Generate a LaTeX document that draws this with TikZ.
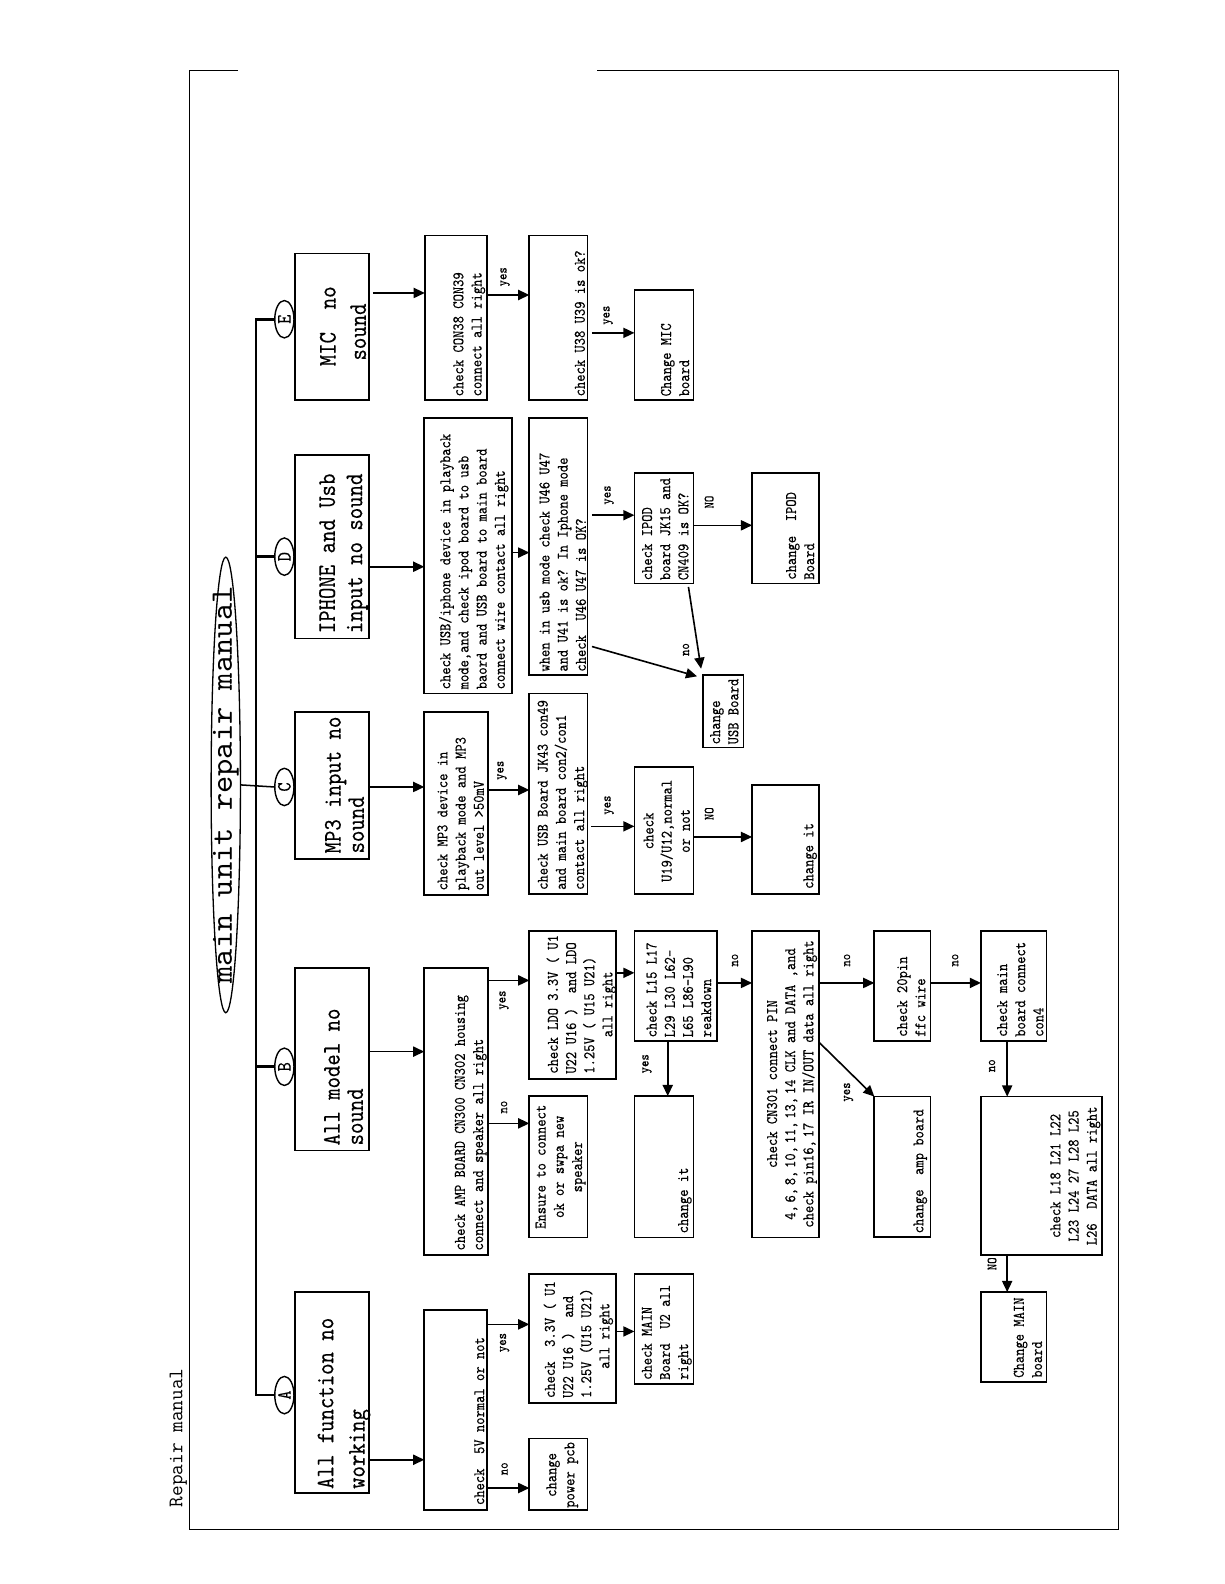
\documentclass[tikz,border=0pt]{standalone}
\usepackage{fontspec}
\usepackage{graphicx}
\usetikzlibrary{arrows.meta,shapes.geometric}
\newfontfamily\myCondFont[FakeStretch=0.86,FakeBold=0.3]{lmmono10-regular.otf}
\newfontfamily\myTitleFont[FakeStretch=1.05]{lmmono10-regular.otf}
\newcommand\mybox[5]{\node[box, minimum width={(#4)-(#2)}, minimum height={(#5)-(#3)}] (#1) at ({((#2)+(#4))/2},{((#3)+(#5))/2}) {};}
\begin{document}
\begin{tikzpicture}[x=1pt,y=-1pt,
  box/.style={draw, line width=1.7pt, inner sep=0pt, outer sep=0pt},
  txt/.style={font=\myCondFont\fontsize{16}{18}\selectfont, inner sep=0pt, rotate=90},
  bigtxt/.style={font=\myCondFont\fontsize{25}{31}\selectfont, inner sep=0pt, rotate=90},
  bigtight/.style={font=\myCondFont\fontsize{25}{23}\selectfont, inner sep=0pt, rotate=90},
  bigmid/.style={font=\myCondFont\fontsize{25}{27}\selectfont, inner sep=0pt, rotate=90},
  lbl/.style={font=\myCondFont\fontsize{14}{16}\selectfont, inner sep=0pt, rotate=90},
  arr/.style={line width=1.6pt, -{Triangle[length=11pt,width=10pt]}},
  bus/.style={line width=2.6pt},
  circ/.style={draw, ellipse, line width=1.4pt, minimum width=37pt, minimum height=19pt, inner sep=0pt, rotate=90, font=\myCondFont\fontsize{20}{20}\selectfont},
  frame/.style={line width=1.3pt}]
\useasboundingbox (0,0) rectangle (1212,1568);
\fill[white] (0,0) rectangle (1212,1568);
% frame
\draw[frame] (235.6,70) -- (187.5,70) -- (187.5,1514) -- (1107.5,1514) -- (1107.5,70) -- (591.3,70);
\node[font=\ttfamily\fontsize{20.5}{22}\selectfont, rotate=90, anchor=west, inner sep=0pt] (rm) at (176.5,1492) {Repair manual};
% title
\node[draw, ellipse, line width=1.3pt, minimum width=29pt, minimum height=451pt, inner sep=0pt] (title) at (223.5,777) {};
\node[font=\myTitleFont\fontsize{31}{31}\selectfont, rotate=90, inner sep=0pt] (titletxt) at (title.center) {main unit repair manual};
% circles
\node[circ] (cA) at (281.5,1381) {A};
\node[circ] (cB) at (281.5,1056) {B};
\node[circ] (cC) at (281.5,779) {C};
\node[circ] (cD) at (281.5,551) {D};
\node[circ] (cE) at (281.5,316) {E};
\coordinate (bt) at (253.5,316);
\coordinate (bb) at (253.5,1381);
\draw[bus] (cE.north) -- (bt) -- (bb) -- (cA.north);
\draw[bus] (cB.north) -- (bt |- cB.north);
\draw[bus] (cD.north) -- (bt |- cD.north);
\draw[line width=1.5pt] (title.east) -- (cC.north);

% ---------- A ----------
\mybox{A1}{292}{1279}{365}{1478}
\node[bigtxt, anchor=west, align=left] (tA1) at (340.5,1474) {All function no\\working};
\mybox{A2}{420}{1297}{482}{1495}
\node[txt, anchor=west] (tA2) at (474.5,1490) {check~~5V normal or not};
\mybox{A3}{524}{1424}{581.5}{1495}
\node[txt, align=center] (tA3) at (556.5,1460) {change\\power pcb};
\mybox{A4}{524}{1261}{609.5}{1389}
\node[txt, anchor=west, align=left] (tA4) at (572.5,1384) {check~~3.3V ( U1\\U22 U16 )~~and\\1.25V (U15 U21)\\\phantom{xxxx}all right};
\mybox{A5}{628}{1261}{686.5}{1370}
\node[txt, anchor=west, align=left] (tA5) at (660,1366) {check MAIN\\Board~~U2 all\\right};
\draw[arr] (A1.east |- 0,1445) -- (A2.west |- 0,1445);
\draw[arr] (A2.east |- 0,1311) -- (A4.west |- 0,1311);
\node[lbl] (yA1) at (499.5,1329) {yes};
\draw[arr] (A2.east |- 0,1473) -- (A3.west |- 0,1473);
\node[lbl] (nA1) at (499.5,1454) {no};
\draw[arr] (A4.east |- 0,1318) -- (A5.west |- 0,1318);

% ---------- B ----------
\mybox{B1}{292}{958}{365}{1139}
\node[bigtight, anchor=west, align=left] (tB1) at (340,1134) {All model no\\sound};
\mybox{B2}{420}{958}{483}{1242}
\node[txt, anchor=west, align=left] (tB2) at (466,1238) {check AMP BOARD CN300 CN302 housing\\connect and speaker all right};
\mybox{B3}{524}{921.5}{609.5}{1068}
\node[txt, anchor=west, align=left] (tB3) at (575.5,1063) {check LDO 3.3V ( U1\\U22 U16 )~~and LDO\\1.25V ( U15 U21)\\\phantom{xxxxx}all right};
\mybox{B4}{524}{1085}{581.5}{1225}
\node[txt, align=center] (tB4) at (555,1155) {Ensure to connect\\ok or swpa new\\speaker};
\mybox{B5}{628}{921.5}{709.5}{1030.5}
\node[txt, anchor=west, align=left] (tB5) at (672,1027) {check L15 L17\\L29 L30 L62\textendash\\L65 L86\textendash L90\\reakdown};
\mybox{B6}{628}{1085}{686.5}{1225}
\node[txt, anchor=west] (tB6) at (678,1221) {change it};
\mybox{B7}{744.5}{921.5}{810.5}{1225}
\node[txt, align=center] (tB7) at (784,1073) {check CN301 connect PIN\\4,\,6,\,8,\,10,\,11,\,13,\,14 CLK and DATA ,and\\check pin16,\,17 IR IN/OUT data all right};
\mybox{B8}{865.5}{921.5}{921}{1030.5}
\node[txt, anchor=west, align=left] (tB8) at (902,1026.5) {check 20pin\\ffc wire};
\mybox{B9}{971}{921.5}{1036}{1030.5}
\node[txt, anchor=west, align=left] (tB9) at (1010,1026.5) {check main\\board connect\\con4};
\mybox{B10}{865.5}{1085.5}{921}{1224.5}
\node[txt, anchor=west] (tB10) at (911,1221) {change~~amp board};
\mybox{B11}{971}{1085.5}{1091}{1242.5}
\node[txt, align=center] (tB11) at (1064.5,1164) {check L18 L21 L22\\L23 L24 27 L28 L25\\L26~~DATA all right};
\mybox{B12}{971}{1279}{1036}{1368}
\node[txt, anchor=west, align=left] (tB12) at (1017.5,1364) {Change MAIN\\board};
\draw[arr] (B1.east |- 0,1041) -- (B2.west |- 0,1041);
\draw[arr] (B2.east |- 0,970.5) -- (B3.west |- 0,970.5);
\node[lbl] (yB1) at (499,990) {yes};
\draw[arr] (B2.east |- 0,1112) -- (B4.west |- 0,1112);
\node[lbl] (nB1) at (499,1096) {no};
\draw[arr] (B3.east |- 0,963) -- (B5.west |- 0,963);
\draw[arr] (B5.south -| 661,0) -- (B6.north -| 661,0);
\node[lbl] (yB2) at (640.5,1053) {yes};
\draw[arr] (B5.east |- 0,973) -- (B7.west |- 0,973);
\node[lbl] (nB2) at (727.5,950.5) {no};
\draw[arr] (B7.east |- 0,973) -- (B8.west |- 0,973);
\node[lbl] (nB3) at (838.5,950.5) {no};
\draw[arr] (B8.east |- 0,973) -- (B9.west |- 0,973);
\node[lbl] (nB4) at (945.5,950.5) {no};
\draw[arr] (B7.east |- 0,1031.5) -- (B10.north west);
\node[lbl] (yB3) at (840,1081) {yes};
\draw[arr] (B9.south -| 997,0) -- (B11.north -| 997,0);
\node[lbl] (nB5) at (982,1055) {no};
\draw[arr] (B11.south -| 997,0) -- (B12.north -| 997,0);
\node[lbl] (nB6) at (982,1251) {NO};

% ---------- C ----------
\mybox{C1}{292}{704.5}{365}{850}
\node[bigtight, anchor=west, align=left] (tC1) at (341,845) {MP3 input no\\sound};
\mybox{C2}{420}{704.5}{483}{886}
\node[txt, anchor=west, align=left] (tC2) at (456,881.5) {check MP3 device in\\playback mode and MP3\\out level >50mV};
\mybox{C3}{524}{686.5}{581.5}{885}
\node[txt, anchor=west, align=left] (tC3) at (557,881) {check USB Board JK43 con49\\and main board con2/con1\\contact all right};
\mybox{C4}{628}{759}{686.5}{885}
\node[txt, align=center] (tC4) at (660,822.5) {check\\U19/U12,normal\\or not};
\mybox{C5}{744.5}{777}{810.5}{885}
\node[txt, anchor=west] (tC5) at (802,880) {change it};
\draw[arr] (C1.east |- 0,779) -- (C2.west |- 0,779);
\draw[arr] (C2.east |- 0,782) -- (C3.west |- 0,782);
\node[lbl] (yC1) at (497,762.5) {yes};
\draw[arr] ([xshift=4pt]C3.east |- 0,818) -- (C4.west |- 0,818);
\node[lbl] (yC2) at (603,797) {yes};
\draw[arr] (C4.east |- 0,828.5) -- (C5.west |- 0,828.5);
\node[lbl] (nC1) at (702,805.5) {NO};

% ---------- D ----------
\mybox{D1}{292}{450.5}{365}{632}
\node[bigmid, anchor=west, align=left] (tD1) at (340,627) {IPHONE and Usb\\input no sound};
\mybox{D2}{420}{414}{506.5}{686.5}
\node[txt, anchor=west, align=left] (tD2) at (469,682.5) {check USB/iphone device in playback\\mode,and check ipod board to usb\\baord and USB board to main board\\connect wire contact all right};
\mybox{D3}{524}{414}{581.5}{668.5}
\node[txt, anchor=west, align=left] (tD3) at (557,665) {when in usb mode check U46 U47\\and U41 is ok? In Iphone mode\\check~~U46 U47 is OK?};
\mybox{D4}{628}{468.5}{686.5}{577.5}
\node[txt, anchor=west, align=left] (tD4) at (658.5,574.5) {check IPOD\\board JK15 and\\CN409 is OK?};
\mybox{D5}{744.5}{468.5}{810.5}{577.5}
\node[txt, anchor=west, align=left] (tD5) at (792,574) {change~~IPOD\\Board};
\mybox{D6}{696}{668}{736}{740}
\node[txt, anchor=west, align=left] (tD6) at (717,737) {change\\USB Board};
\draw[arr] (D1.east |- 0,561) -- (D2.west |- 0,561);
\draw[arr] (D2.east |- 0,547) -- (D3.west |- 0,547);
\draw[arr] ([xshift=4.5pt]D3.east |- 0,510) -- (D4.west |- 0,510);
\node[lbl] (yD1) at (603,490) {yes};
\draw[arr] (D4.east |- 0,520) -- (D5.west |- 0,520);
\node[lbl] (nD1) at (702,497) {NO};
\draw[arr] ([xshift=-5pt,yshift=-3.5pt]D4.south east) -- ([xshift=-2pt,yshift=6pt]D6.north west);
\draw[arr] ([xshift=4.5pt,yshift=28.5pt]D3.south east) -- ([xshift=-6pt,yshift=-1.5pt]D6.north west);
\node[lbl] (nD2) at (679,643) {no};

% ---------- E ----------
\mybox{E1}{292}{251}{365.5}{396}
\node[bigtxt, font=\myCondFont\fontsize{25}{30}\selectfont, align=center] (tE1) at (339.5,323) {MIC~~no\\sound\phantom{x}};
\mybox{E2}{420.5}{233}{482}{396}
\node[txt, anchor=west, align=left] (tE2) at (464.5,392.5) {check CON38 CON39\\connect all right};
\mybox{E3}{524}{233}{581.5}{396}
\node[txt, anchor=west] (tE3) at (574,392.5) {check U38 U39 is ok?};
\mybox{E4}{628}{287}{686.5}{396}
\node[txt, anchor=west, align=left] (tE4) at (668.3,392.5) {Change MIC\\board};
\draw[arr] ([xshift=3.5pt]E1.east |- 0,290) -- (E2.west |- 0,290);
\draw[arr] (E2.east |- 0,292) -- (E3.west |- 0,292);
\node[lbl] (yE1) at (500,274) {yes};
\draw[arr] ([xshift=4.5pt]E3.east |- 0,329.5) -- (E4.west |- 0,329.5);
\node[lbl] (yE2) at (602,312) {yes};
\end{tikzpicture}
\end{document}
